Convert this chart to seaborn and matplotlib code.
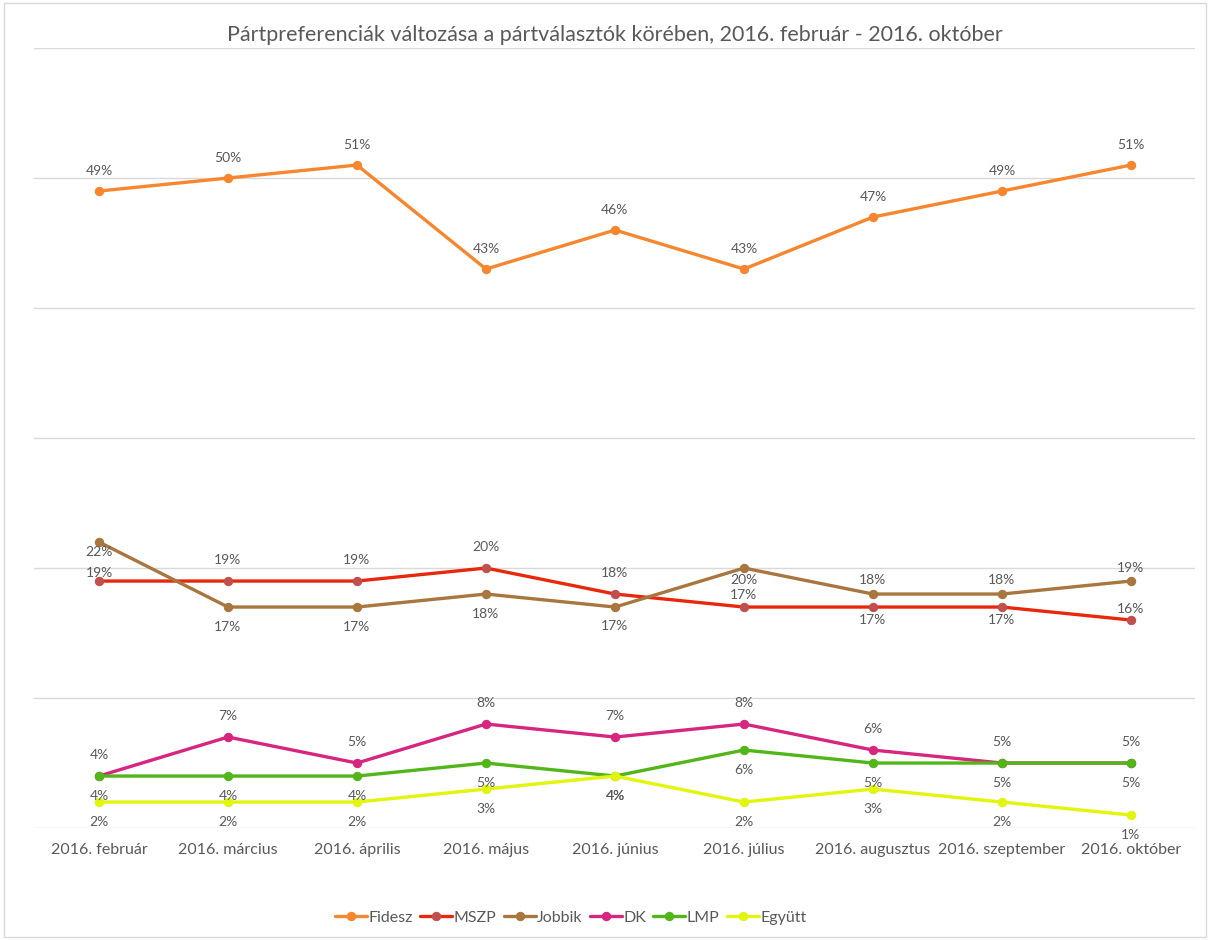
import numpy as np
import pandas as pd
import seaborn as sns
import matplotlib.pyplot as plt
from matplotlib.patches import Rectangle

# data
months = ["2016. február", "2016. március", "2016. április", "2016. május", "2016. június",
          "2016. július", "2016. augusztus", "2016. szeptember", "2016. október"]
fidesz = [49, 50, 51, 43, 46, 43, 47, 49, 51]
mszp = [19, 19, 19, 20, 18, 17, 17, 17, 16]
jobbik = [22, 17, 17, 18, 17, 20, 18, 18, 19]
dk = [4, 7, 5, 8, 7, 8, 6, 5, 5]
lmp = [4, 4, 4, 5, 4, 6, 5, 5, 5]
egyutt = [2, 2, 2, 3, 4, 2, 3, 2, 1]

parties = ["Fidesz", "MSZP", "Jobbik", "DK", "LMP", "Együtt"]
series = [fidesz, mszp, jobbik, dk, lmp, egyutt]
line_colors = ["#F7862E", "#E8280C", "#A8763E", "#D6267F", "#52B519", "#E2F50C"]
marker_colors = ["#F7862E", "#C0504D", "#A8763E", "#D6267F", "#52B519", "#E2F50C"]

# label offset from the point in pixels (+ is up), as placed in the reference
label_px = {
    "Fidesz": [20] * 9,
    "MSZP": [8, 21, 21, 21, 21, 12, -13, -13, 11],
    "Jobbik": [-10, -20, -20, -20, -19, -12, 14, 14, 13],
    "DK": [21] * 9,
    "LMP": [-20] * 9,
    "Együtt": [-20] * 9,
}

df = pd.DataFrame({
    "x": np.tile(np.arange(len(months)), len(parties)),
    "value": np.concatenate(series),
    "party": np.repeat(parties, len(months)),
})

sns.set_style("white")
plt.rcParams['font.family'] = ['Lato', 'DejaVu Sans']
text_col = "#595959"

fig = plt.figure(figsize=(12.1, 9.4), dpi=100)
ax = fig.add_axes([0.0285, 0.1191, 0.9595, 0.8298])

for i, p in enumerate(parties):
    sub = df[df["party"] == p]
    sns.lineplot(data=sub, x="x", y="value", ax=ax, color=line_colors[i], lw=2.4,
                 marker="o", markersize=6, markerfacecolor=marker_colors[i],
                 markeredgecolor=marker_colors[i], label=p, zorder=3 + i * 0.1)
    for j, (xv, yv) in enumerate(zip(sub["x"], sub["value"])):
        ax.annotate(f"{yv}%", (xv, yv), xytext=(0, label_px[p][j] * 0.72),
                    textcoords="offset points", ha="center", va="center",
                    fontsize=10, color=text_col, zorder=10)

ax.set_xlim(-0.5, len(months) - 0.5)
ax.set_ylim(0, 60)
ax.set_yticks(np.arange(0, 61, 10))
ax.set_yticklabels([])
ax.tick_params(axis="y", length=0)
ax.set_xticks(np.arange(len(months)))
ax.set_xticklabels(months, fontsize=11.5, color=text_col)
ax.tick_params(axis="x", length=0, pad=11)
ax.grid(axis="y", color="#D9D9D9", lw=1)
ax.set_xlabel("")
ax.set_ylabel("")
for s in ax.spines.values():
    s.set_visible(False)

ax.set_title("Pártpreferenciák változása a pártválasztók körében, 2016. február - 2016. október",
             fontsize=15.5, color=text_col, pad=5)

ax.legend(loc="center", bbox_to_anchor=(0.462, -0.115), ncol=6, frameon=False,
          fontsize=11.5, handlelength=2.0, columnspacing=0.45, handletextpad=0.1,
          labelcolor=text_col)

fig.patches.append(Rectangle((0.003, 0.003), 0.994, 0.994, transform=fig.transFigure,
                             fill=False, edgecolor="#D9D9D9", lw=1))

fig.savefig("out.png", dpi=100)
